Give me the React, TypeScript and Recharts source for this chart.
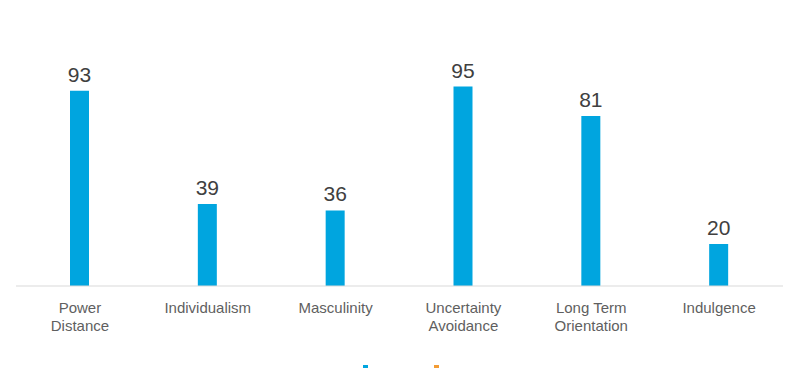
import React from "react";
import { BarChart, Bar, XAxis, YAxis, LabelList, Text } from "recharts";

const dimensions = [
  "Power Distance",
  "Individualism",
  "Masculinity",
  "Uncertainty Avoidance",
  "Long Term Orientation",
  "Indulgence",
];
const scores = [93, 39, 36, 95, 81, 20];

const data = dimensions.map((name, i) => ({ name, score: scores[i] }));

function CategoryTick(props: any) {
  const { x, y, payload } = props;
  return (
    <Text
      x={x}
      y={y}
      width={100}
      textAnchor="middle"
      verticalAnchor="start"
      lineHeight={18}
      fontSize={15}
      fill="#5f5f5f"
      fontFamily="Liberation Sans, Arial, sans-serif"
    >
      {payload.value}
    </Text>
  );
}

export default function App() {
  return (
    <div style={{ position: "absolute", left: 0, top: 0, width: 799, height: 368, overflow: "hidden", background: "#fff" }}>
      <BarChart
        width={799}
        height={368}
        data={data}
        margin={{ top: 76, right: 16, bottom: 42, left: 16 }}
      >
        <XAxis
          dataKey="name"
          axisLine={{ stroke: "#d9d9d9" }}
          tickLine={false}
          tickSize={8}
          tickMargin={8}
          interval={0}
          tick={<CategoryTick />}
          height={40}
        />
        <YAxis hide domain={[0, 100]} />
        <Bar dataKey="score" fill="#00a5df" barSize={19} isAnimationActive={false}>
          <LabelList
            dataKey="score"
            position="top"
            offset={9}
            fill="#404040"
            fontSize={21}
            fontFamily="Liberation Sans, Arial, sans-serif"
          />
        </Bar>
      </BarChart>
      <div style={{ position: "absolute", left: 363, top: 365, width: 5, height: 5, background: "#00a5df" }} />
      <div style={{ position: "absolute", left: 434, top: 365, width: 5, height: 5, background: "#f39c34" }} />
    </div>
  );
}
